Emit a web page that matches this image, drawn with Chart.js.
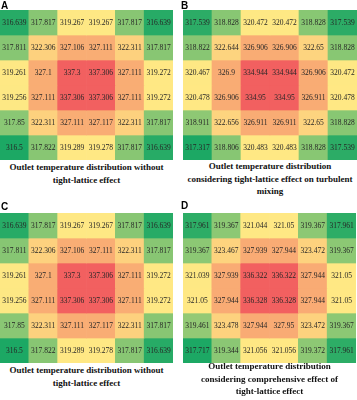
<!DOCTYPE html>
<html>
<head>
<meta charset="utf-8">
<script src="https://cdn.jsdelivr.net/npm/chart.js@4.4.1/dist/chart.umd.min.js"></script>
<style>
  body { margin: 0; background: #fff; }
  #page { position: relative; width: 357px; height: 400px; overflow: hidden; }
  .panel { position: absolute; }
  .letter { position: absolute; font: bold 10px "Liberation Sans", Arial, sans-serif; color: #000; }
  .caption { position: absolute; text-align: center; font: bold 9px "Liberation Serif", "Times New Roman", serif; line-height: 12.5px; color: #111; }
</style>
</head>
<body>
<div id="page"></div>
<script>
// ============================================================
// DATA (rows top to bottom, columns left to right)
// ============================================================

const columns = ["1", "2", "3", "4", "5", "6"];

const valuesA = [
  [316.639, 317.817, 319.267, 319.267, 317.817, 316.639],
  [317.811, 322.306, 327.106, 327.111, 322.311, 317.817],
  [319.261, 327.1, 337.3, 337.306, 327.111, 319.272],
  [319.256, 327.111, 337.306, 337.306, 327.111, 319.272],
  [317.85, 322.311, 327.111, 327.117, 322.311, 317.817],
  [316.5, 317.822, 319.289, 319.278, 317.817, 316.639]
];

const valuesB = [
  [317.539, 318.828, 320.472, 320.472, 318.828, 317.539],
  [318.822, 322.644, 326.906, 326.906, 322.65, 318.828],
  [320.467, 326.9, 334.944, 334.944, 326.906, 320.472],
  [320.478, 326.906, 334.95, 334.95, 326.911, 320.478],
  [318.911, 322.656, 326.911, 326.911, 322.65, 318.828],
  [317.317, 318.806, 320.483, 320.483, 318.828, 317.539]
];

const valuesC = [
  [316.639, 317.817, 319.267, 319.267, 317.817, 316.639],
  [317.811, 322.306, 327.106, 327.111, 322.311, 317.817],
  [319.261, 327.1, 337.3, 337.306, 327.111, 319.272],
  [319.256, 327.111, 337.306, 337.306, 327.111, 319.272],
  [317.85, 322.311, 327.111, 327.117, 322.311, 317.817],
  [316.5, 317.822, 319.289, 319.278, 317.817, 316.639]
];

const valuesD = [
  [317.961, 319.367, 321.044, 321.05, 319.367, 317.961],
  [319.367, 323.467, 327.939, 327.944, 323.472, 319.367],
  [321.039, 327.939, 336.322, 336.322, 327.944, 321.05],
  [321.05, 327.944, 336.328, 336.328, 327.944, 321.05],
  [319.461, 323.478, 327.944, 327.95, 323.472, 319.367],
  [317.717, 319.344, 321.056, 321.056, 319.372, 317.961]
];

const captionA = ["Outlet temperature distribution without", "tight-lattice effect"];
const captionB = ["Outlet temperature distribution", "considering tight-lattice effect on turbulent", "mixing"];
const captionC = ["Outlet temperature distribution without", "tight-lattice effect"];
const captionD = ["Outlet temperature distribution", "considering comprehensive effect of", "tight-lattice effect"];

// ============================================================
// COLOUR SCALE (green - yellow - red, midpoint at the median)
// ============================================================

const lowColor = [28, 168, 100];
const midColor = [255, 232, 132];
const highColor = [242, 96, 96];

function makeColorScale(values) {
  const sorted = values.flat().sort(function(a, b) { return a - b; });
  const min = sorted[0];
  const max = sorted[sorted.length - 1];
  const n = sorted.length;
  const median = (sorted[n / 2 - 1] + sorted[n / 2]) / 2;

  return function(v) {
    let from, to, t;
    if (v <= median) {
      from = lowColor; to = midColor; t = (v - min) / (median - min);
    } else {
      from = midColor; to = highColor; t = (v - median) / (max - median);
    }
    t = Math.max(0, Math.min(1, t));
    const c = from.map(function(f, i) { return Math.round(f + (to[i] - f) * t); });
    return "rgb(" + c.join(",") + ")";
  };
}

// ============================================================
// CELL LABELS
// ============================================================

const cellLabels = {
  id: "cellLabels",
  afterDatasetsDraw(chart) {
    const ctx = chart.ctx;
    const values = chart.options.plugins.cellLabels.values;
    ctx.save();
    ctx.font = '7.5px "Liberation Serif", "Times New Roman", serif';
    ctx.fillStyle = "#262626";
    ctx.textAlign = "center";
    ctx.textBaseline = "middle";
    chart.data.datasets.forEach(function(ds, r) {
      chart.getDatasetMeta(r).data.forEach(function(bar, c) {
        ctx.fillText(String(values[r][c]), bar.x, (bar.y + bar.base) / 2 + 0.5);
      });
    });
    ctx.restore();
  }
};

// ============================================================
// PANELS
// ============================================================

function addPanel(letter, values, caption, box) {
  const page = document.getElementById("page");

  const div = document.createElement("div");
  div.className = "panel";
  div.style.left = box.x + "px";
  div.style.top = box.y + "px";
  div.style.width = box.w + "px";
  div.style.height = box.h + "px";
  const canvas = document.createElement("canvas");
  div.appendChild(canvas);
  page.appendChild(div);

  const lab = document.createElement("div");
  lab.className = "letter";
  lab.style.left = box.lx + "px";
  lab.style.top = box.ly + "px";
  lab.innerText = letter;
  page.appendChild(lab);

  const cap = document.createElement("div");
  cap.className = "caption";
  cap.style.left = (box.x - 10) + "px";
  cap.style.width = (box.w + 20) + "px";
  cap.style.top = box.cy + "px";
  cap.innerHTML = caption.join("<br>");
  page.appendChild(cap);

  const colorOf = makeColorScale(values);

  new Chart(canvas, {
    type: "bar",
    data: {
      labels: columns,
      datasets: values.map(function(row) {
        return {
          data: row.map(function() { return 1; }),
          backgroundColor: row.map(colorOf),
          borderWidth: 0,
          barPercentage: 1,
          categoryPercentage: 1
        };
      })
    },
    options: {
      responsive: true,
      maintainAspectRatio: false,
      animation: false,
      layout: { padding: 0 },
      plugins: {
        legend: { display: false },
        tooltip: { enabled: false },
        cellLabels: { values: values }
      },
      scales: {
        x: { display: false, stacked: true },
        y: { display: false, stacked: true, min: 0, max: 6, reverse: true }
      }
    },
    plugins: [cellLabels]
  });
}

addPanel("A", valuesA, captionA, { x: 0, y: 10, w: 173, h: 150, lx: 1, ly: 0, cy: 161 });
addPanel("B", valuesB, captionB, { x: 183, y: 10, w: 174, h: 150, lx: 181, ly: 0, cy: 160 });
addPanel("C", valuesC, captionC, { x: 0, y: 213, w: 173, h: 150, lx: 1, ly: 201, cy: 364 });
addPanel("D", valuesD, captionD, { x: 183, y: 213, w: 173, h: 150, lx: 181, ly: 200, cy: 360 });
</script>
</body>
</html>
